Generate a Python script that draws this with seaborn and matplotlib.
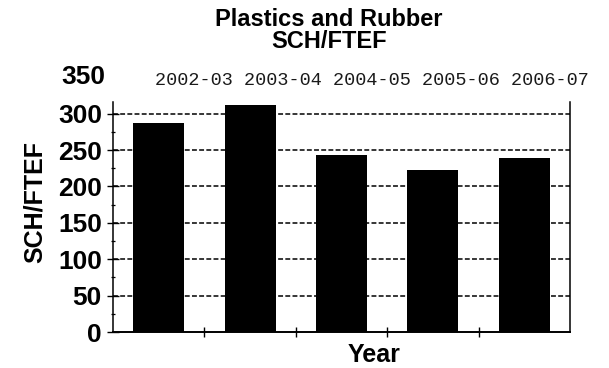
import matplotlib
matplotlib.use("Agg")
import matplotlib.pyplot as plt
from matplotlib.ticker import MultipleLocator, FixedLocator, NullFormatter
import pandas as pd
import seaborn as sns

# Data
years = ["2002-03", "2003-04", "2004-05", "2005-06", "2006-07"]
sch_per_ftef = [287, 312, 243, 222, 239]
y_ticks = [0, 50, 100, 150, 200, 250, 300]
top_tick = 350

title_line1 = "Plastics and Rubber"
title_line2 = "SCH/FTEF"
y_label = "SCH/FTEF"
x_label = "Year"

sns.set_style("white")
plt.rcParams["font.family"] = ["Liberation Sans", "DejaVu Sans"]
plt.rcParams["text.color"] = "black"
plt.rcParams["xtick.color"] = "black"
plt.rcParams["ytick.color"] = "black"

W, H = 609, 368
fig = plt.figure(figsize=(W / 100, H / 100), dpi=100)
ax = fig.add_axes([113 / W, 1 - 332 / H, (570 - 113) / W, (332 - 102) / H])

df = pd.DataFrame({"Year": years, "SCH/FTEF": sch_per_ftef})
sns.barplot(data=df, x="Year", y="SCH/FTEF", color="black", saturation=1,
            width=0.56, edgecolor="none", ax=ax, zorder=3)

ax.set_xlim(-0.5, len(years) - 0.5)
ax.set_ylim(0, 316)

# y axis: bold numbers, crossing ticks, minor ticks at midpoints
ax.yaxis.set_major_locator(FixedLocator(y_ticks))
ax.yaxis.set_minor_locator(MultipleLocator(25))
ax.set_yticklabels([str(v) for v in y_ticks], fontsize=19, fontweight="bold",
                   color="black")
ax.tick_params(axis="y", which="both", left=True, right=False)
ax.tick_params(axis="y", which="major", direction="inout", length=8, width=1.0,
               pad=4, color="black")
ax.tick_params(axis="y", which="minor", direction="inout", length=3.5, width=0.9,
               color="black")

# x axis: separators between categories, no labels at the bottom
ax.xaxis.set_major_locator(FixedLocator(range(len(years))))
ax.set_xticklabels([])
ax.xaxis.set_minor_locator(FixedLocator([i + 0.5 for i in range(len(years) - 1)]))
ax.xaxis.set_minor_formatter(NullFormatter())
ax.tick_params(axis="x", which="both", bottom=True, top=False)
ax.tick_params(axis="x", which="major", length=0)
ax.tick_params(axis="x", which="minor", direction="inout", length=6.5, width=1.0,
               color="black")

ax.set_xlabel("")
ax.set_ylabel("")

# dashed horizontal grid behind the bars
for v in y_ticks[1:]:
    ax.axhline(v, color="black", lw=1.1, ls=(0, (3.2, 1.5)), zorder=1)

for side in ["left", "bottom", "right"]:
    ax.spines[side].set_visible(True)
    ax.spines[side].set_color("black")
    ax.spines[side].set_linewidth(1.1)
ax.spines["bottom"].set_linewidth(1.4)
ax.spines["top"].set_visible(False)

# top value label on the y scale
ax.text(-8 / (570 - 113), top_tick, str(top_tick),
        transform=ax.get_yaxis_transform(), ha="right", va="center",
        fontsize=19, fontweight="bold", clip_on=False)

# category row along the top
fig.text(155 / W, 1 - 85 / H, " ".join(years), family="Liberation Mono",
         fontsize=13.3, color="#1a1a1a", ha="left", va="baseline")

# titles and axis labels
fig.text(329 / W, 1 - 25.5 / H, title_line1, ha="center", va="baseline",
         fontsize=17, fontweight="bold")
fig.text(329 / W, 1 - 47.5 / H, title_line2, ha="center", va="baseline",
         fontsize=17, fontweight="bold")
fig.text(35 / W, 1 - 202 / H, y_label, rotation=90, ha="center", va="center",
         fontsize=18, fontweight="bold")
fig.text(374 / W, 1 - 361.5 / H, x_label, ha="center", va="baseline",
         fontsize=18, fontweight="bold")

fig.savefig("out.png", dpi=100, facecolor="white")
